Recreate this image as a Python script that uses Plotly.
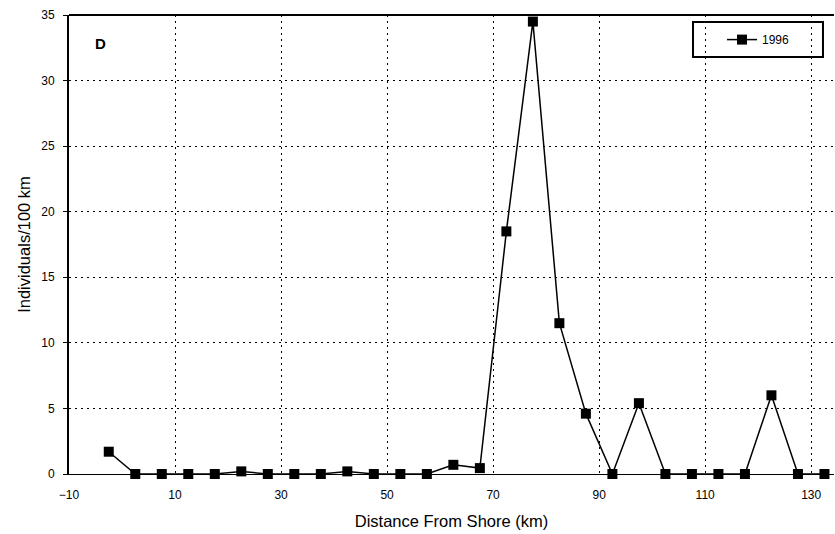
import plotly.graph_objects as go

distance_km = [-2.5, 2.5, 7.5, 12.5, 17.5, 22.5, 27.5, 32.5, 37.5, 42.5, 47.5, 52.5, 57.5,
               62.5, 67.5, 72.5, 77.5, 82.5, 87.5, 92.5, 97.5, 102.5, 107.5, 112.5, 117.5,
               122.5, 127.5, 132.5]
individuals_1996 = [1.7, 0, 0, 0, 0, 0.2, 0, 0, 0, 0.2, 0, 0, 0,
                    0.7, 0.45, 18.5, 34.5, 11.5, 4.6, 0, 5.4, 0, 0, 0, 0,
                    6.0, 0, 0]
x_ticks = [-10, 10, 30, 50, 70, 90, 110, 130]
y_ticks = [0, 5, 10, 15, 20, 25, 30, 35]

FONT = "Liberation Sans, Arial, sans-serif"

fig = go.Figure()
fig.add_trace(go.Scatter(
    x=distance_km, y=individuals_1996, mode="lines+markers", name="1996",
    line=dict(color="black", width=1.5),
    marker=dict(symbol="square", size=10, color="black"),
    cliponaxis=False,
))

fig.update_layout(
    width=835, height=534,
    margin=dict(l=69, r=1, t=15, b=60),
    paper_bgcolor="white", plot_bgcolor="white",
    font=dict(family=FONT, size=12, color="black"),
    showlegend=True,
    legend=dict(x=0.8536, y=0.978, xanchor="left", yanchor="top",
                borderwidth=0, bgcolor="rgba(0,0,0,0)",
                font=dict(size=12)),
    xaxis=dict(range=[-10, 134.3], tickvals=x_ticks, showgrid=True,
               gridcolor="black", griddash="2px,4px", gridwidth=1,
               showline=True, linecolor="black", linewidth=1.2,
               zeroline=False, ticks="", ticklabelstandoff=9,
               title=dict(text="Distance From Shore (km)", font=dict(size=16.5), standoff=14)),
    yaxis=dict(range=[0, 35], tickvals=y_ticks, showgrid=True,
               gridcolor="black", griddash="2px,4px", gridwidth=1,
               showline=True, linecolor="black", linewidth=2,
               zeroline=False, ticks="outside", ticklen=4, tickcolor="black",
               ticklabelstandoff=6,
               title=dict(text="Individuals/100 km", font=dict(size=16.5), standoff=6)),
    shapes=[
        dict(type="line", xref="paper", yref="paper", x0=0, x1=1, y0=1, y1=1,
             line=dict(color="black", width=2)),
        dict(type="rect", xref="paper", yref="paper", x0=0.8157, x1=0.9856,
             y0=0.9085, y1=0.9847, line=dict(color="black", width=2)),
    ],
    annotations=[dict(text="<b>D</b>", x=0.031, y=0.961, xref="paper", yref="paper",
                      showarrow=False, font=dict(size=15))],
)

fig.write_html("out.html", config={"displayModeBar": False},
               post_script="document.body.style.margin='0';")
